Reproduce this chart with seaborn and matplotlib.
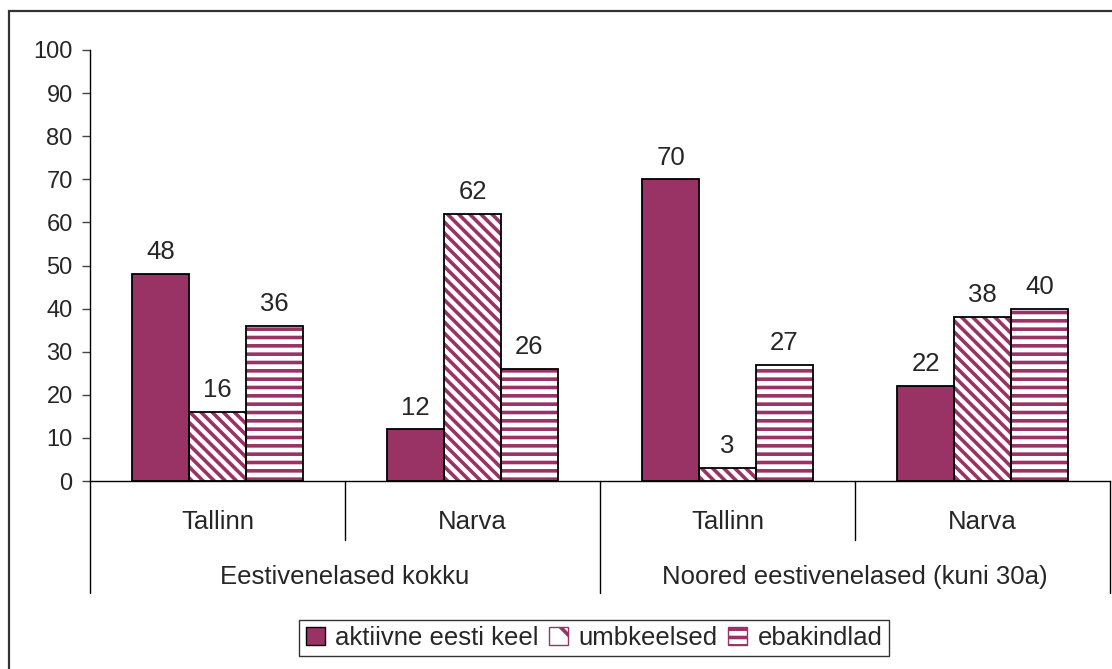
import pandas as pd
import seaborn as sns
import matplotlib.pyplot as plt
from matplotlib.patches import Patch, Rectangle
from matplotlib import transforms

# data
places = ['Tallinn', 'Narva', 'Tallinn', 'Narva']
groups = ['Eestivenelased kokku', 'Noored eestivenelased (kuni 30a)']
series = ['aktiivne eesti keel', 'umbkeelsed', 'ebakindlad']
aktiivne = [48, 12, 70, 22]
umbkeelsed = [16, 62, 3, 38]
ebakindlad = [36, 26, 27, 40]

slot = ['c0', 'c1', 'c2', 'c3']
df = pd.DataFrame({
    'slot': slot * 3,
    'series': [s for s in series for _ in slot],
    'value': aktiivne + umbkeelsed + ebakindlad,
})

purple = '#993366'
hatches = ['', '\\\\\\', '--']

sns.set_style("white")
plt.rcParams['font.family'] = ['Liberation Sans', 'DejaVu Sans']
plt.rcParams['hatch.linewidth'] = 2.6
fs_tick = 17
fs_val = 18.5
fs_txt = 18.5

fig = plt.figure(figsize=(11.12, 6.69), dpi=100)
W, H = 1112, 669
ax = fig.add_axes([90 / W, 1 - 481 / H, 1020 / W, 431 / H])

sns.barplot(data=df, x='slot', y='value', hue='series', order=slot,
            hue_order=series, palette=[purple] * 3, width=0.67,
            saturation=1, legend=False, ax=ax)

for i, cont in enumerate(ax.containers):
    for p in cont:
        if hatches[i]:
            p.set_facecolor('white')
            p.set_edgecolor(purple)
            p.set_hatch(hatches[i])
        p.set_linewidth(0)
        ax.add_patch(Rectangle(p.get_xy(), p.get_width(), p.get_height(),
                               fill=False, edgecolor='black', linewidth=1.3,
                               zorder=3))
    ax.bar_label(cont, padding=7, fontsize=fs_val)

ax.set_ylim(0, 100)
ax.set_xlim(-0.5, 3.5)
ax.set_yticks(range(0, 101, 10))
ax.tick_params(axis='y', labelsize=fs_tick, length=5.5, width=1,
               direction='out', left=True, pad=7, color='#444444')
ax.set_xticks([])
ax.set_xlabel('')
ax.set_ylabel('')
for side in ['top', 'right']:
    ax.spines[side].set_visible(False)
for side in ['left', 'bottom']:
    ax.spines[side].set_color('black')
    ax.spines[side].set_linewidth(1)

# hierarchical category axis
tr = transforms.blended_transform_factory(ax.transData, ax.transAxes)
for k, lab in enumerate(places):
    ax.text(k, -0.095, lab, transform=tr, ha='center', va='center',
            fontsize=fs_txt)
for g, lab in enumerate(groups):
    ax.text(2 * g + 0.5, -0.222, lab, transform=tr, ha='center', va='center',
            fontsize=fs_txt)
for xb in [-0.5, 0.5, 1.5, 2.5, 3.5]:
    depth = -0.137 if xb in (0.5, 2.5) else -0.26
    ax.plot([xb, xb], [0, depth], transform=tr, color='black', lw=1,
            clip_on=False)

# legend
handles = [Patch(facecolor=purple, edgecolor='black'),
           Patch(facecolor='white', edgecolor=purple, hatch='\\'),
           Patch(facecolor='white', edgecolor=purple, hatch='--')]
leg = fig.legend(handles, series, loc='center', ncol=3,
                 bbox_to_anchor=(594 / W, 1 - 638 / H), fontsize=fs_txt,
                 frameon=True, fancybox=False, handlelength=0.75,
                 handleheight=0.75, handletextpad=0.4, columnspacing=0.4,
                 borderpad=0.25, borderaxespad=0)
leg.get_frame().set_edgecolor('black')
leg.get_frame().set_linewidth(1)
for h in leg.legend_handles:
    h.set_linewidth(1)

# outer chart frame
fig.patches.append(Rectangle((9 / W, -0.2), 1.2, 1.2 - 11 / H, fill=False,
                             edgecolor='#333333', linewidth=1.6,
                             transform=fig.transFigure, figure=fig))

fig.savefig('out.png', dpi=100)
